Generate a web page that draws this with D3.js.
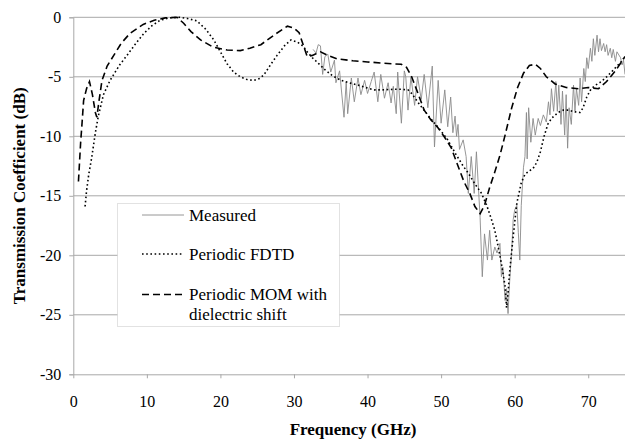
<!DOCTYPE html>
<html lang="en">
<head>
<meta charset="utf-8">
<title>Transmission Coefficient</title>
<script src="https://cdn.jsdelivr.net/npm/d3@7"></script>
</head>
<body style="margin: 0; background: #ffffff;">
<svg id="chart"></svg>
<script>
// values: [frequency GHz, dB]
var measured = [
  [32.6,-2.7],[33.0,-3.0],[33.3,-2.3],[33.6,-2.4],[33.9,-4.8],[34.2,-3.3],[34.6,-3.1],[35.0,-4.6],
  [35.5,-3.6],[35.7,-5.5],[36.2,-4.5],[36.8,-8.4],[37.1,-5.4],[37.3,-8.1],[37.8,-5.1],[38.2,-7.1],
  [38.7,-5.1],[39.1,-6.5],[39.6,-5.3],[40.0,-6.4],[40.5,-5.4],[40.9,-4.6],[41.4,-7.1],[41.8,-4.8],
  [42.3,-6.8],[42.8,-5.5],[43.2,-7.2],[43.5,-5.8],[43.9,-8.1],[44.1,-4.6],[44.6,-8.9],[45.0,-4.5],
  [45.2,-5.0],[45.5,-7.8],[45.9,-5.0],[46.4,-7.4],[46.8,-5.0],[47.3,-6.9],[47.7,-4.8],[48.2,-7.6],
  [48.8,-4.1],[49.1,-10.9],[49.6,-5.3],[50.0,-8.9],[50.5,-6.1],[50.9,-9.2],[51.3,-6.7],[51.6,-9.7],
  [51.9,-8.3],[52.1,-10.0],[52.3,-9.0],[52.5,-11.1],[53.0,-10.3],[53.4,-11.7],[53.7,-14.8],[54.1,-11.7],
  [54.5,-14.8],[54.8,-11.3],[55.3,-16.8],[55.6,-21.8],[55.9,-18.2],[56.3,-20.4],[56.6,-17.9],[56.9,-20.4],
  [57.3,-19.3],[57.6,-19.8],[58.0,-19.0],[58.2,-21.8],[58.4,-21.0],[58.7,-23.8],[58.9,-22.8],[59.1,-24.9],
  [59.3,-22.4],[59.6,-19.6],[59.8,-17.0],[60.0,-16.2],[60.3,-15.8],[60.5,-18.1],[60.7,-20.4],[60.9,-15.8],
  [61.2,-12.6],[61.4,-11.7],[61.6,-8.0],[61.7,-11.9],[61.9,-7.6],[62.2,-10.5],[62.5,-8.5],[62.8,-9.9],
  [63.2,-8.5],[63.5,-9.1],[63.9,-8.2],[64.3,-8.8],[64.6,-7.1],[64.8,-8.2],[65.0,-6.0],[65.3,-7.9],
  [65.6,-5.4],[65.8,-7.9],[66.0,-5.7],[66.3,-9.0],[66.5,-6.2],[66.8,-9.9],[67.0,-6.5],[67.2,-11.0],
  [67.4,-7.6],[67.7,-9.0],[68.0,-5.7],[68.2,-7.9],[68.4,-6.0],[68.7,-7.4],[68.9,-5.1],[69.1,-7.1],
  [69.4,-4.3],[69.6,-5.4],[69.8,-3.4],[70.0,-4.3],[70.3,-2.6],[70.5,-3.7],[70.7,-1.8],[70.9,-3.2],
  [71.2,-1.5],[71.4,-2.9],[71.6,-1.8],[71.8,-2.8],[72.1,-2.2],[72.3,-2.9],[72.5,-2.3],[72.7,-3.2],
  [73.0,-2.6],[73.2,-3.4],[73.4,-2.7],[73.7,-3.7],[73.9,-2.9],[74.4,-3.4],[74.6,-4.0],[74.8,-3.6],
  [75.0,-4.8]
];

var fdtd = [
  [1.6,-15.9],[1.8,-14.6],[2.1,-13.2],[2.5,-11.8],[3.0,-9.7],[3.4,-8.3],[4.1,-6.5],[5.0,-5.3],
  [5.5,-4.8],[6.3,-4.0],[7.3,-3.2],[8.5,-2.2],[9.6,-1.35],[10.7,-0.7],[11.8,-0.25],[13.0,-0.05],
  [14.5,0],[15.5,-0.1],[16.8,-0.3],[18.0,-1.0],[19.1,-1.9],[20.0,-2.9],[20.9,-3.9],[21.8,-4.6],
  [22.7,-5.0],[23.7,-5.25],[24.6,-5.3],[25.3,-5.15],[25.9,-4.85],[26.8,-4.0],[27.7,-3.2],[28.7,-2.4],
  [29.6,-1.9],[30.5,-2.1],[31.2,-2.4],[31.8,-2.9],[32.5,-3.4],[33.2,-3.8],[34.2,-4.4],[35.2,-4.9],
  [36.4,-5.3],[37.5,-5.5],[38.7,-5.7],[40.0,-5.95],[40.9,-6.1],[42.0,-6.1],[43.5,-6.05],[44.6,-6.05],
  [45.5,-6.1],[46.0,-6.4],[46.8,-7.1],[47.8,-7.9],[48.7,-8.6],[49.8,-9.4],[50.9,-10.3],[52.0,-11.5],
  [53.0,-12.5],[53.7,-13.1],[54.6,-14.0],[55.5,-14.8],[56.2,-15.8],[56.8,-16.9],[57.3,-17.9],[57.8,-19.4],
  [58.2,-20.7],[58.7,-22.6],[58.9,-24.4],[59.1,-23.2],[59.3,-21.5],[59.8,-18.4],[60.3,-15.6],[60.9,-13.9],
  [61.4,-13.2],[62.0,-12.9],[62.5,-12.7],[63.0,-12.2],[63.5,-11.3],[64.0,-10.0],[64.5,-9.0],[65.0,-8.5],
  [65.9,-8.0],[66.6,-7.8],[67.3,-7.8],[68.2,-7.95],[68.9,-8.0],[69.3,-7.6],[69.8,-6.7],[70.4,-6.0],
  [71.0,-5.7],[71.8,-5.4],[72.5,-5.0],[73.3,-4.5],[73.9,-4.1],[74.4,-3.8],[74.8,-3.45]
];

var mom = [
  [0.7,-13.8],[1.0,-10.5],[1.2,-8.8],[1.4,-7.0],[1.8,-6.0],[2.2,-5.4],[2.6,-6.5],[3.0,-8.0],
  [3.2,-8.4],[3.5,-7.0],[3.9,-5.3],[4.6,-4.1],[5.5,-3.2],[6.5,-2.2],[7.7,-1.35],[9.5,-0.6],
  [11.0,-0.25],[12.5,-0.05],[14.1,0],[15.0,-0.5],[16.0,-1.2],[17.3,-1.9],[19.0,-2.5],[20.9,-2.75],
  [22.7,-2.8],[24.0,-2.6],[25.5,-2.3],[27.5,-1.4],[29.1,-0.75],[30.0,-0.9],[30.7,-1.3],[31.3,-2.4],
  [31.8,-3.3],[32.5,-3.2],[33.6,-2.9],[34.6,-3.2],[35.9,-3.5],[38.0,-3.65],[40.0,-3.75],[42.0,-3.85],
  [44.6,-3.95],[45.3,-4.2],[46.0,-5.0],[46.8,-6.3],[47.7,-7.8],[48.6,-8.6],[49.6,-9.3],[50.5,-10.1],
  [51.4,-11.0],[52.3,-12.5],[53.1,-13.8],[53.9,-14.8],[54.6,-15.9],[55.3,-16.5],[55.9,-15.8],[56.6,-14.3],
  [57.3,-13.0],[58.0,-11.6],[58.7,-9.9],[59.6,-7.6],[60.4,-5.9],[61.2,-4.7],[62.0,-4.05],[62.8,-3.95],
  [63.5,-4.3],[64.3,-5.0],[65.5,-5.6],[67.0,-5.9],[68.7,-6.0],[70.0,-5.9],[71.4,-6.0],[72.5,-5.4],
  [73.7,-4.5],[75.0,-3.3]
];

var xTicks = [0, 10, 20, 30, 40, 50, 60, 70];
var yTicks = [0, -5, -10, -15, -20, -25, -30];
var legendLabels = [["Measured"], ["Periodic FDTD"], ["Periodic MOM with", "dielectric shift"]];

var serif = "Liberation Serif";
var width = 625;
var height = 440;
var margin = {top: 17.3, right: 0, bottom: 65.7, left: 73.3};

var svg = d3.select("#chart")
    .attr("width", width)
    .attr("height", height);

var x = d3.scaleLinear()
    .domain([0, 75])
    .range([margin.left, width - margin.right]);

var y = d3.scaleLinear()
    .domain([-30, 0])
    .range([height - margin.bottom, margin.top]);

// horizontal grid
svg.append("g")
    .selectAll("line")
    .data(yTicks.filter(function(d){ return d !== -30; }))
    .enter()
    .append("line")
    .attr("x1", x(0))
    .attr("x2", width)
    .attr("y1", function(d){ return y(d); })
    .attr("y2", function(d){ return y(d); })
    .attr("stroke", "#a8a8a8")
    .attr("stroke-width", 1);

// y axis (plain hyphen minus like the original)
var yAxis = svg.append("g")
    .attr("transform", "translate(" + x(0) + ",0)")
    .call(d3.axisLeft(y).tickValues(yTicks).tickSize(4).tickPadding(8)
        .tickFormat(function(d){ return String(d); }));
yAxis.select(".domain").attr("stroke", "#a8a8a8");
yAxis.selectAll(".tick line").attr("stroke", "#a8a8a8");
yAxis.selectAll("text")
    .style("font-family", serif)
    .style("font-size", "16px")
    .attr("fill", "#000");

// x axis
var xAxis = svg.append("g")
    .attr("transform", "translate(0," + y(-30) + ")")
    .call(d3.axisBottom(x).tickValues(xTicks).tickSize(4).tickPadding(17).tickSizeOuter(0));
xAxis.select(".domain").attr("stroke", "#a8a8a8");
xAxis.selectAll(".tick line").attr("stroke", "#a8a8a8");
xAxis.selectAll("text")
    .style("font-family", serif)
    .style("font-size", "16px")
    .attr("fill", "#000");

// axis titles
svg.append("text")
    .attr("x", 353)
    .attr("y", 435)
    .attr("text-anchor", "middle")
    .style("font-family", serif)
    .style("font-size", "17px")
    .style("font-weight", "bold")
    .text("Frequency (GHz)");

svg.append("text")
    .attr("transform", "translate(25," + ((y(0) + y(-30)) / 2) + ") rotate(-90)")
    .attr("text-anchor", "middle")
    .style("font-family", serif)
    .style("font-size", "17px")
    .style("font-weight", "bold")
    .text("Transmission Coefficient (dB)");

var line = d3.line()
    .x(function(d){ return x(d[0]); })
    .y(function(d){ return y(d[1]); });

svg.append("path")
    .datum(measured)
    .attr("d", line)
    .attr("fill", "none")
    .attr("stroke", "#8a8a8a")
    .attr("stroke-width", 0.9);

svg.append("path")
    .datum(fdtd)
    .attr("d", line)
    .attr("fill", "none")
    .attr("stroke", "#000")
    .attr("stroke-width", 1.6)
    .attr("stroke-dasharray", "1.6,2.6");

svg.append("path")
    .datum(mom)
    .attr("d", line)
    .attr("fill", "none")
    .attr("stroke", "#000")
    .attr("stroke-width", 1.6)
    .attr("stroke-dasharray", "7,4");

// legend
var legend = svg.append("g");

legend.append("rect")
    .attr("x", 117.5)
    .attr("y", 203.5)
    .attr("width", 222)
    .attr("height", 123)
    .attr("fill", "#fff")
    .attr("stroke", "#c4c4c4")
    .attr("stroke-width", 1)
    .attr("stroke-dasharray", "1,1");

var legendStyles = [
    {stroke: "#8a8a8a", width: 0.9, dash: null, y: 215},
    {stroke: "#000", width: 1.6, dash: "1.6,2.6", y: 254},
    {stroke: "#000", width: 1.6, dash: "7,4", y: 294.5}
];

legendLabels.forEach(function(lines, i){
    var s = legendStyles[i];
    legend.append("line")
        .attr("x1", 142)
        .attr("x2", 184)
        .attr("y1", s.y)
        .attr("y2", s.y)
        .attr("stroke", s.stroke)
        .attr("stroke-width", s.width)
        .attr("stroke-dasharray", s.dash);
    lines.forEach(function(t, j){
        legend.append("text")
            .attr("x", 189)
            .attr("y", s.y + 5.5 + j * 19.5)
            .style("font-family", serif)
            .style("font-size", "17px")
            .text(t);
    });
});
</script>
</body>
</html>
